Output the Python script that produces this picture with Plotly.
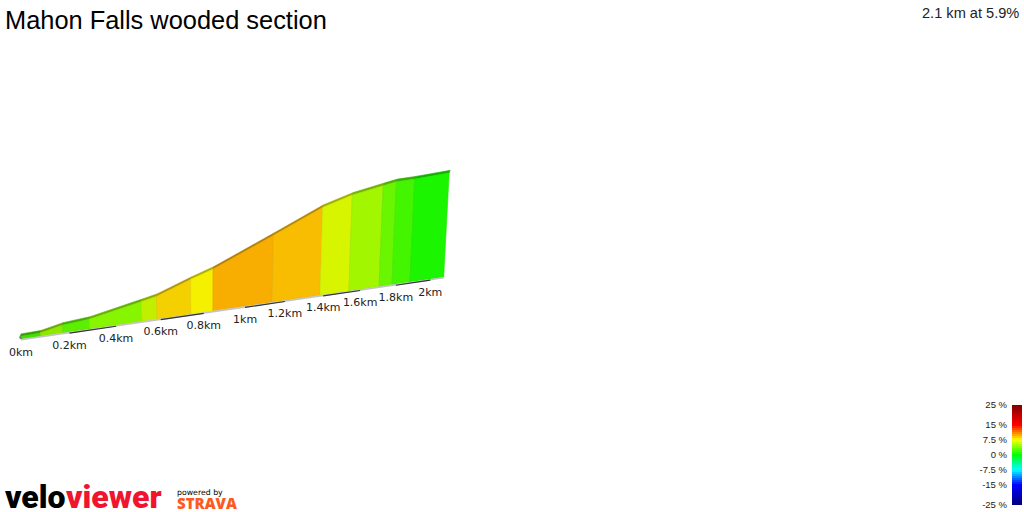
import plotly.graph_objects as go

# --- data ---
segment_km = [0, 0.081, 0.173, 0.287, 0.515, 0.583, 0.74, 0.844, 1.135, 1.383, 1.538, 1.705, 1.778, 1.881, 2.08]
elevation_m = [0, 0.5, 5.2, 7.4, 18.2, 21.5, 34.9, 42.9, 72.2, 98, 108.8, 116.4, 119.6, 120.8, 124.3]
segment_colours = ["#44e000", "#8fe800", "#5cf000", "#88f500", "#c0f000", "#f5d000", "#f5f000",
                   "#f8ae00", "#f8bc00", "#d8f500", "#a2f600", "#6af500", "#44f500", "#1cf500"]
tick_km = [0, 0.2, 0.4, 0.6, 0.8, 1, 1.2, 1.4, 1.6, 1.8, 2]
tick_labels = ["0km", "0.2km", "0.4km", "0.6km", "0.8km", "1km", "1.2km", "1.4km", "1.6km", "1.8km", "2km"]
dash_km = [(0.2, 0.4), (0.6, 0.8), (1, 1.2), (1.4, 1.6), (1.8, 2)]
legend_pct = [25, 15, 7.5, 0, -7.5, -15, -25]
legend_text = ["25 %", "15 %", "7.5 %", "0 %", "-7.5 %", "-15 %", "-25 %"]
legend_stops = [-25, -15, -7.5, 0, 7.5, 15, 25]
legend_colours = ["#00007f", "#0000ff", "#00ffff", "#00ff00", "#ffff00", "#ff0000", "#7f0000"]
title = "Mahon Falls wooded section"
summary = "2.1 km at 5.9%"

# --- oblique perspective view used by the original ---
X0, Y0, A, B, SLOPE, WALL, LEAN, RIDGE = 21.0, 339.0, 247.6, 0.105, 0.1466, 2.5, 0.03, 2.6


def base(d):
    sx = X0 + A * d / (1 + B * d)
    return sx, Y0 - SLOPE * (sx - X0)


def top(d, e):
    sx, sy = base(d)
    h = (e + WALL) / (1 + B * d)
    return sx + LEAN * h * d - 1, sy - h


def darker(c, f=0.72):
    return "#%02x%02x%02x" % tuple(int(int(c[i:i + 2], 16) * f) for i in (1, 3, 5))


fig = go.Figure()


def poly(pts, fill, line=None, w=0.6):
    fig.add_trace(go.Scatter(x=[p[0] for p in pts] + [pts[0][0]], y=[p[1] for p in pts] + [pts[0][1]],
                             mode="lines", fill="toself", fillcolor=fill,
                             line=dict(color=line or fill, width=w), hoverinfo="skip", showlegend=False))


# ridge (top face)
for i, c in enumerate(segment_colours):
    a = top(segment_km[i], elevation_m[i])
    b = top(segment_km[i + 1], elevation_m[i + 1])
    poly([a, b, (b[0] + 1, b[1] - RIDGE), (a[0] + 1, a[1] - RIDGE)], darker(c))

# front wall
for i, c in enumerate(segment_colours):
    d0, d1 = segment_km[i], segment_km[i + 1]
    poly([base(d0), base(d1), top(d1, elevation_m[i + 1]), top(d0, elevation_m[i])], c, darker(c, 0.93))

# base edge and start cap
be = [base(segment_km[0]), base(segment_km[-1])]
fig.add_trace(go.Scatter(x=[p[0] for p in be], y=[p[1] + 0.8 for p in be], mode="lines",
                         line=dict(color="#c4c4c4", width=1.6), hoverinfo="skip", showlegend=False))
cap = [top(segment_km[0], elevation_m[0]), base(segment_km[0])]
fig.add_trace(go.Scatter(x=[p[0] for p in cap], y=[p[1] for p in cap], mode="lines",
                         line=dict(color="#777777", width=2), hoverinfo="skip", showlegend=False))

# km bands under the base
for d0, d1 in dash_km:
    p0, p1 = base(d0), base(d1)
    fig.add_trace(go.Scatter(x=[p0[0], p1[0]], y=[p0[1] + 1.2, p1[1] + 1.2], mode="lines",
                             line=dict(color="#333333", width=1.2), hoverinfo="skip", showlegend=False))

# km labels
pts = [base(d) for d in tick_km]
fig.add_trace(go.Scatter(x=[p[0] for p in pts], y=[p[1] + 14 for p in pts], mode="text", text=tick_labels,
                         textposition="middle center",
                         textfont=dict(family="DejaVu Sans", size=11, color="#222222"),
                         hoverinfo="skip", showlegend=False))

# gradient legend
lo, hi = legend_stops[0], legend_stops[-1]
fig.add_trace(go.Heatmap(z=[[v] for v in range(lo, hi + 1)], y=list(range(lo, hi + 1)), x=[0],
                         xaxis="x2", yaxis="y2", showscale=False, hoverinfo="skip", zmin=lo, zmax=hi,
                         colorscale=[[(s - lo) / (hi - lo), c] for s, c in zip(legend_stops, legend_colours)]))


def note(text, x, y, anchor, family, size, colour, weight=400):
    font = dict(family=family, size=size, color=colour, weight=weight)
    return dict(text=text, xref="paper", yref="paper", x=x / 1024, y=1 - y / 512, xanchor=anchor,
                yanchor="middle", showarrow=False, borderpad=0, borderwidth=0, font=font)


fig.update_layout(
    width=1024, height=512, margin=dict(l=0, r=0, t=0, b=0, pad=0, autoexpand=False),
    paper_bgcolor="white", plot_bgcolor="white",
    xaxis=dict(range=[0, 1024], domain=[0, 1], visible=False),
    yaxis=dict(range=[512, 0], domain=[0, 1], visible=False),
    xaxis2=dict(domain=[1012 / 1024, 1022 / 1024], anchor="y2", visible=False),
    yaxis2=dict(domain=[1 - 505 / 512, 1 - 405 / 512], anchor="x2", range=[lo, hi], side="left",
                tickvals=legend_pct, ticktext=legend_text, ticks="", showgrid=False, zeroline=False,
                showline=False, ticklabelstandoff=4,
                tickfont=dict(family="Liberation Sans", size=9.5, color="#222222")),
    annotations=[
        note(title, 5, 20, "left", "Liberation Sans", 25.4, "black"),
        note(summary, 1019, 13, "right", "Liberation Sans", 14.6, "#222222"),
        note("velo", 5, 497, "left", "Roboto", 32, "black", 900),
        note("viewer", 66, 497, "left", "Roboto", 32, "#f0142e", 900),
        note("powered by", 177, 492, "left", "DejaVu Sans", 7.8, "black"),
        note("STRAVA", 177, 503, "left", "Open Sans", 15, "#fc5a1e", 800),
    ],
)

fig.write_html("out.html", config={"displayModeBar": False},
               post_script="document.body.style.margin='0';document.body.style.overflow='hidden';")
